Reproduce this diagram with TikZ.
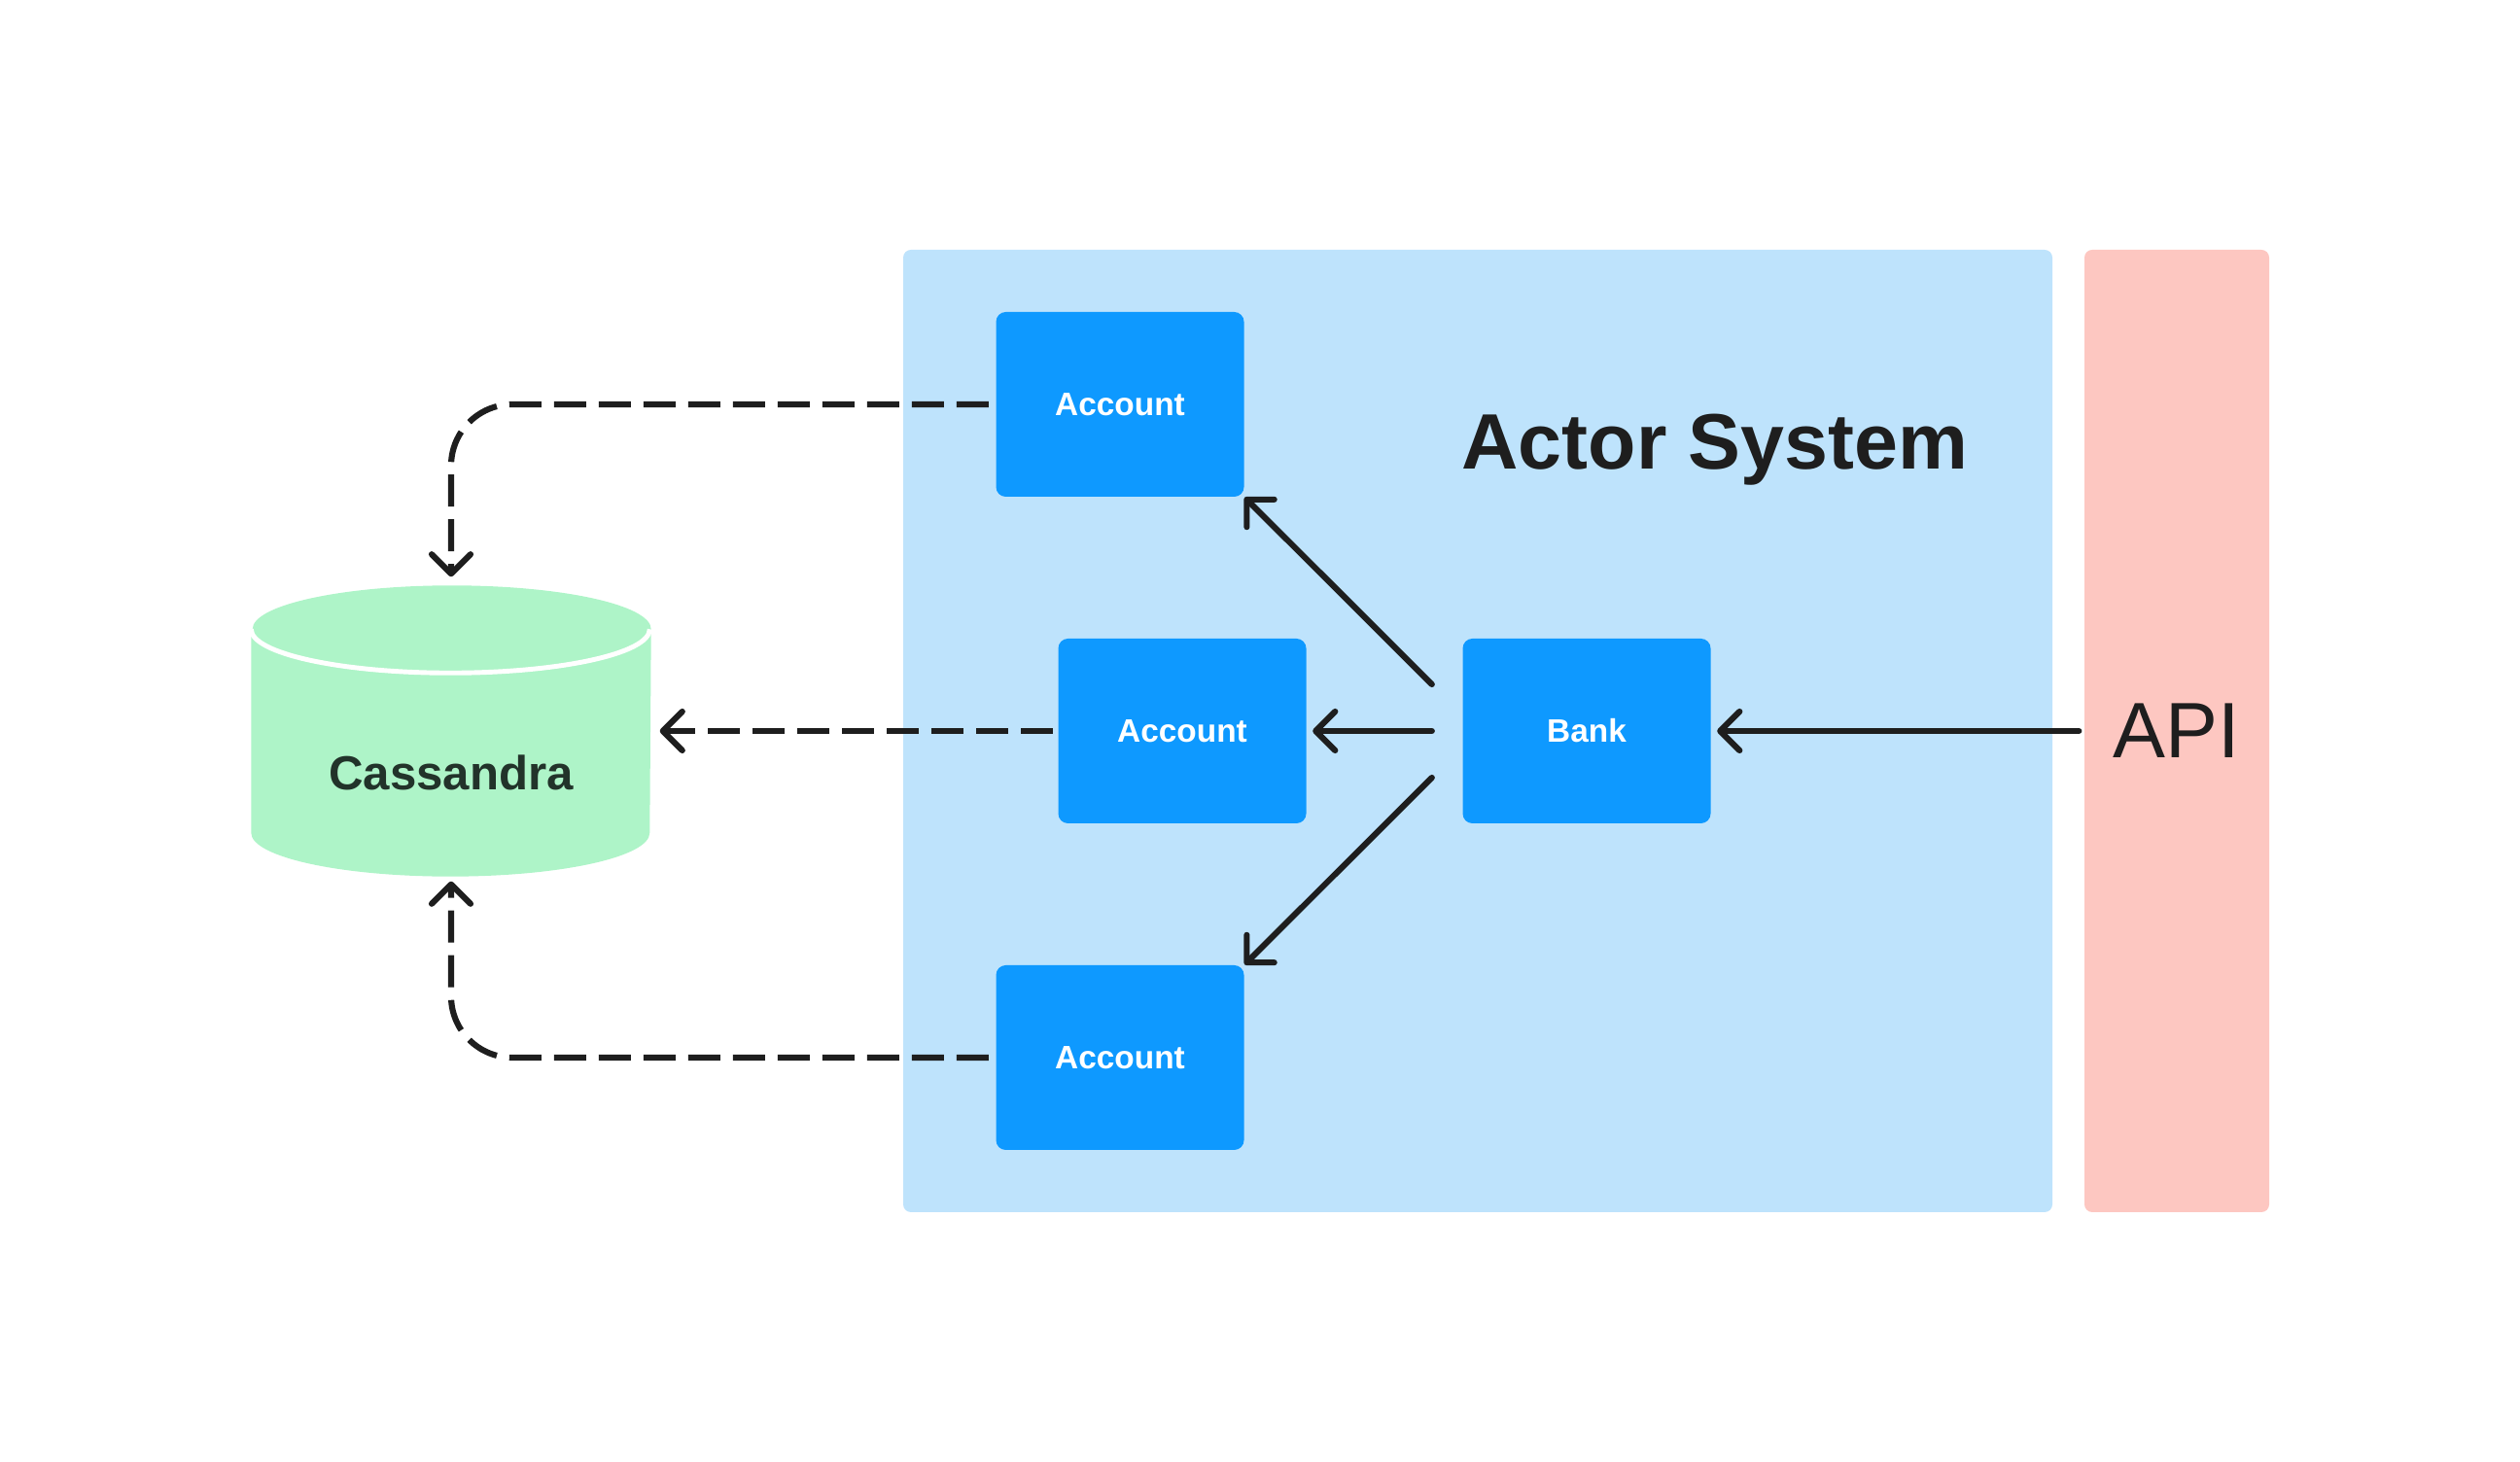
\documentclass[tikz,border=0pt]{standalone}
\usepackage{fontspec}
\setmainfont{Liberation Sans}
\usetikzlibrary{arrows.meta,positioning}

\definecolor{sysblue}{RGB}{190,227,252}
\definecolor{actorblue}{RGB}{14,153,255}
\definecolor{apipink}{RGB}{253,199,193}
\definecolor{dbgreen}{RGB}{174,244,200}
\definecolor{inkdark}{RGB}{30,30,30}
\definecolor{dbink}{RGB}{34,51,42}

\tikzset{
	actor/.style={fill=actorblue, rounded corners=0.1cm, minimum width=2.55cm, minimum height=1.90cm, inner sep=0pt, text=white, font=\bfseries\fontsize{9.5}{11}\selectfont},
	msg/.style={draw=inkdark, line width=1.75pt, line cap=round, -{Straight Barb[length=0.2cm, width=0.4cm, line cap=round, line join=round]}},
	persist/.style={msg, line cap=butt, dash pattern=on 0.33cm off 0.13cm, rounded corners=0.63cm},
}

\begin{document}
\begin{tikzpicture}
			\useasboundingbox (0,0) rectangle (25.92,15.04);

			% actor system and api
			\node[fill=sysblue, rounded corners=0.08cm, minimum width=11.82cm, minimum height=9.90cm] (system) at (15.20,7.52) {};
			\node[fill=apipink, rounded corners=0.08cm, minimum width=1.90cm, minimum height=9.90cm, text=inkdark, font=\fontsize{23}{28}\selectfont] (api) at (22.39,7.52) {API};
			\node[anchor=base, text=inkdark, font=\bfseries\fontsize{23}{28}\selectfont] (title) at (17.64,10.21) {Actor System};

			\node[actor] (bank) at (16.32,7.52) {Bank};
			\foreach \name/\x/\y in {acc1/11.52/10.88, acc2/12.16/7.52, acc3/11.52/4.16}
				\node[actor] (\name) at (\x,\y) {Account};

			% cassandra
			\node[inner sep=0pt, minimum width=4.10cm, minimum height=2.98cm] (db) at (4.64,7.52) {};
			\fill[dbgreen] ([yshift=-0.45cm]db.north west) -- ([yshift=0.45cm]db.south west)
				arc[start angle=180, end angle=360, x radius=2.05cm, y radius=0.45cm]
				-- ([yshift=-0.45cm]db.north east)
				arc[start angle=0, end angle=180, x radius=2.05cm, y radius=0.45cm] -- cycle;
			\draw[white, line width=1.4pt] ([yshift=-0.45cm]db.north west)
				arc[start angle=180, end angle=360, x radius=2.05cm, y radius=0.45cm];
			\node[text=dbink, font=\bfseries\fontsize{14}{17}\selectfont] (dblabel) at ([yshift=-0.43cm]db.center) {Cassandra};

			% messages
			\coordinate (fanup) at ([shift={(-0.31cm,0.48cm)}]bank.west);
			\coordinate (fandown) at ([shift={(-0.31cm,-0.48cm)}]bank.west);
			\draw[msg, shorten <=0.05cm, shorten >=0.06cm] (api.west) -- (bank.east);
			\draw[msg, shorten <=0.31cm, shorten >=0.06cm] (bank.west) -- (acc2.east);
			\draw[msg] (fanup) -- (acc1.south east);
			\draw[msg] (fandown) -- (acc3.north east);

			\draw[persist, shorten <=0.07cm, shorten >=0.09cm] (acc1.west) -| (db.north);
			\draw[persist, shorten <=0.05cm, shorten >=0.09cm] (acc2.west) -- (db.east);
			\draw[persist, shorten <=0.07cm, shorten >=0.05cm] (acc3.west) -| (db.south);
\end{tikzpicture}
\end{document}
